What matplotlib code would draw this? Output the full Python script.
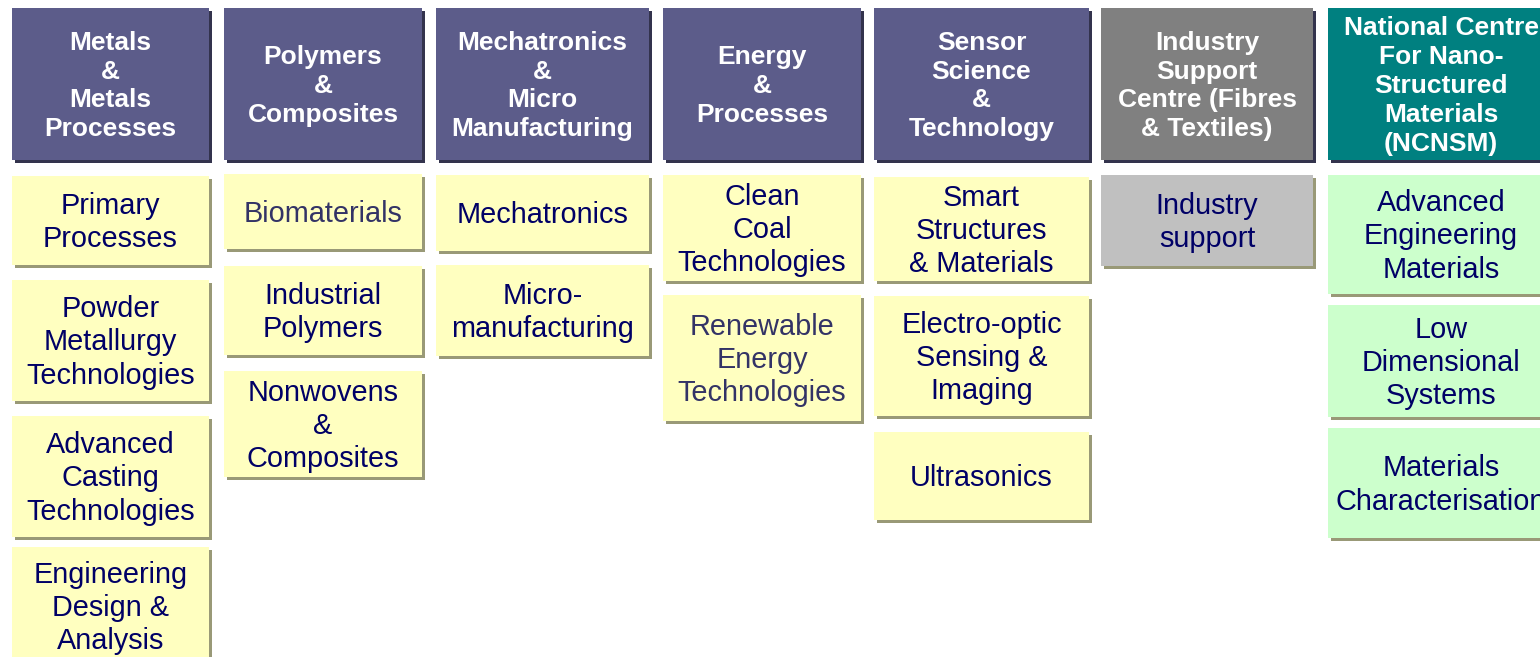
import matplotlib.pyplot as plt
from matplotlib.patches import Rectangle

plt.rcParams['font.family'] = ['Liberation Sans', 'DejaVu Sans']

# ---- content ----
headers = [
    "Metals\n&\nMetals\nProcesses",
    "Polymers\n&\nComposites",
    "Mechatronics\n&\nMicro\nManufacturing",
    "Energy\n&\nProcesses",
    "Sensor\nScience\n&\nTechnology",
    "Industry\nSupport\nCentre (Fibres\n& Textiles)",
    "National Centre\nFor Nano-\nStructured\nMaterials\n(NCNSM)",
]
items = [
    ["Primary\nProcesses", "Powder\nMetallurgy\nTechnologies",
     "Advanced\nCasting\nTechnologies", "Engineering\nDesign &\nAnalysis"],
    ["Biomaterials", "Industrial\nPolymers", "Nonwovens\n&\nComposites"],
    ["Mechatronics", "Micro-\nmanufacturing"],
    ["Clean\nCoal\nTechnologies", "Renewable\nEnergy\nTechnologies"],
    ["Smart\nStructures\n& Materials", "Electro-optic\nSensing &\nImaging", "Ultrasonics"],
    ["Industry\nsupport"],
    ["Advanced\nEngineering\nMaterials", "Low\nDimensional\nSystems",
     "Materials\nCharacterisation"],
]
# lighter text for a couple of items
muted = {(1, 0), (3, 1)}

# ---- layout (pixels) ----
col_left = [12, 224, 436, 663, 874, 1101, 1328]
col_right = [209, 422, 649, 861, 1089, 1313, 1554]
header_top, header_bottom = 8, 160
item_tops = [
    [176, 280, 416, 547],
    [174, 266, 371],
    [175, 265],
    [175, 295],
    [177, 296, 432],
    [175],
    [175, 305, 428],
]
item_bottoms = [
    [265, 401, 537, 665],
    [249, 355, 477],
    [251, 356],
    [281, 421],
    [281, 416, 520],
    [266],
    [294, 417, 538],
]

header_colors = ["#5c5c8a"] * 5 + ["#808080", "#008080"]
item_colors = ["#ffffc0"] * 5 + ["#c0c0c0", "#ccffcc"]
header_shadow = "#33334d"
item_shadow = "#999977"
text_navy = "#000066"
text_muted = "#333366"
sh = 3

fig = plt.figure(figsize=(15.4, 6.57), dpi=100)
ax = fig.add_axes([0, 0, 1, 1])
ax.set_xlim(0, 1540)
ax.set_ylim(657, 0)
ax.axis("off")


def box(x0, y0, x1, y1, fc, shadow):
    ax.add_patch(Rectangle((x0 + sh, y0 + sh), x1 - x0, y1 - y0,
                           facecolor=shadow, edgecolor="none"))
    ax.add_patch(Rectangle((x0, y0), x1 - x0, y1 - y0,
                           facecolor=fc, edgecolor="none"))


for c in range(len(headers)):
    x0, x1 = col_left[c], col_right[c]
    cx = (x0 + x1) / 2
    box(x0, header_top, x1, header_bottom, header_colors[c], header_shadow)
    ax.text(cx, (header_top + header_bottom) / 2 + 2, headers[c],
            ha="center", va="center", color="white", fontsize=19,
            fontweight="bold", linespacing=1.26)
    for i, label in enumerate(items[c]):
        y0, y1 = item_tops[c][i], item_bottoms[c][i]
        box(x0, y0, x1, y1, item_colors[c], item_shadow)
        col = text_muted if (c, i) in muted else text_navy
        ax.text(cx, (y0 + y1) / 2 + 2, label, ha="center", va="center",
                color=col, fontsize=20.8, linespacing=1.23)

fig.savefig("out.png", dpi=100)
